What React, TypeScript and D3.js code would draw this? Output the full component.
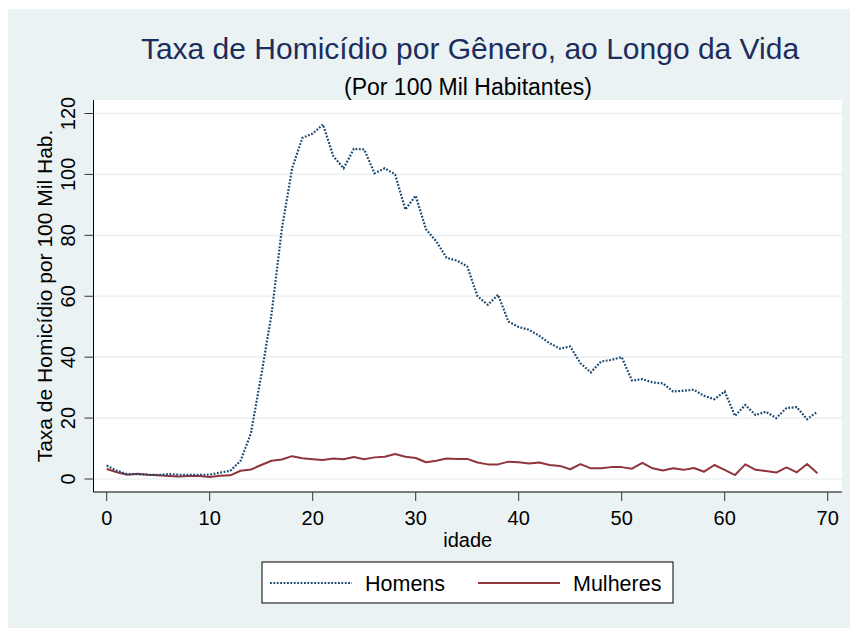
import React from "react";
import * as d3 from "d3";

const ages = [0,1,2,3,4,5,6,7,8,9,10,11,12,13,14,15,16,17,18,19,20,21,22,23,24,25,26,27,28,29,30,31,32,33,34,35,36,37,38,39,40,41,42,43,44,45,46,47,48,49,50,51,52,53,54,55,56,57,58,59,60,61,62,63,64,65,66,67,68,69];
const homens = [4.4,2.7,1.6,1.6,1.4,1.3,1.6,1.4,1.4,1.4,1.4,2.1,2.7,6,15,34,54,82,102,112,113.4,116.4,106,102,108.4,108.2,100.4,102,100,88.5,93,82,78,72.6,71.7,69.8,60,57.2,60.5,51.7,49.9,49,47,44.6,42.8,43.5,38,35,38.6,39.1,40,32.3,32.8,31.7,31.4,28.7,29,29.3,27.3,26.2,28.7,20.7,24.3,21,22.1,20,23.3,23.6,19.6,22.1];
const mulheres = [3.3,2.2,1.4,1.75,1.4,1.2,1.0,0.8,1.0,1.0,0.65,1.1,1.2,2.7,3.1,4.6,6.0,6.4,7.5,6.8,6.5,6.25,6.7,6.5,7.2,6.5,7.1,7.3,8.2,7.3,6.9,5.5,6.0,6.7,6.6,6.6,5.4,4.8,4.8,5.7,5.5,5.1,5.4,4.6,4.3,3.2,4.9,3.5,3.5,3.9,3.9,3.4,5.3,3.5,2.8,3.5,3.0,3.6,2.4,4.6,3.0,1.3,4.8,3.0,2.6,2.1,3.8,2.2,4.9,1.9];
const xTicks = [0,10,20,30,40,50,60,70];
const yTicks = [0,20,40,60,80,100,120];
const seriesNames = ["Homens", "Mulheres"];
const title = "Taxa de Homicídio por Gênero, ao Longo da Vida";
const subtitle = "(Por 100 Mil Habitantes)";
const yTitle = "Taxa de Homicídio por 100 Mil Hab.";
const xTitle = "idade";

const BG = "#eaf2f3";
const NAVY = "#1a476f";
const MAROON = "#90353b";
const FONT = "'Liberation Sans', Arial, sans-serif";

export default function App() {
  const W = 853, H = 628;
  const plot = { left: 93.5, right: 842, top: 100, bottom: 492 };
  const x = d3.scaleLinear().domain([0, 70]).range([106.7, 827.7]);
  const y = d3.scaleLinear().domain([0, 120]).range([479, 113.5]);
  const line = d3.line<number>().x((_, i) => x(ages[i])).y((d) => y(d));

  return (
    <svg width={W} height={H} style={{ position: "absolute", left: 0, top: 0 }} fontFamily={FONT}>
      <rect x={0} y={0} width={W} height={H} fill="#ffffff" />
      <rect x={8} y={9} width={842} height={H - 9} fill={BG} />
      <rect x={plot.left} y={plot.top} width={plot.right - plot.left} height={plot.bottom - plot.top} fill="#ffffff" />
      {yTicks.map((t) => (
        <line key={"g" + t} x1={plot.left} x2={plot.right} y1={y(t)} y2={y(t)} stroke={BG} strokeWidth={1.6} />
      ))}
      <path d={line(mulheres) || ""} fill="none" stroke={MAROON} strokeWidth={2} strokeLinejoin="round" />
      <path d={line(homens) || ""} fill="none" stroke={NAVY} strokeWidth={2.2} strokeDasharray="1.8 1.6" />
      {/* axes */}
      <line x1={plot.left} x2={plot.left} y1={plot.top} y2={plot.bottom} stroke="#000" strokeWidth={1} />
      <line x1={plot.left} x2={plot.right} y1={plot.bottom} y2={plot.bottom} stroke="#000" strokeWidth={1} />
      {yTicks.map((t) => (
        <g key={"yt" + t}>
          <line x1={plot.left - 9} x2={plot.left} y1={y(t)} y2={y(t)} stroke="#333" strokeWidth={1} />
          <text transform={`translate(${75},${y(t)}) rotate(-90)`} textAnchor="middle" fontSize={20} fill="#000">{t}</text>
        </g>
      ))}
      {xTicks.map((t) => (
        <g key={"xt" + t}>
          <line x1={x(t)} x2={x(t)} y1={plot.bottom} y2={plot.bottom + 9} stroke="#333" strokeWidth={1} />
          <text x={x(t)} y={525} textAnchor="middle" fontSize={20} fill="#000">{t}</text>
        </g>
      ))}
      <text x={(plot.left + plot.right) / 2} y={547} textAnchor="middle" fontSize={20} fill="#000">{xTitle}</text>
      <text transform={`translate(${52},${(plot.top + plot.bottom) / 2}) rotate(-90)`} textAnchor="middle" fontSize={21} fill="#000">{yTitle}</text>
      <text x={470} y={59} textAnchor="middle" fontSize={30} fill="#1c2d5c">{title}</text>
      <text x={468} y={95} textAnchor="middle" fontSize={23} fill="#000">{subtitle}</text>
      {/* legend */}
      <rect x={262} y={562} width={411} height={41} fill="#fff" stroke="#000" strokeWidth={1} />
      <line x1={270} x2={352} y1={583} y2={583} stroke={NAVY} strokeWidth={2.2} strokeDasharray="1.8 1.6" />
      <text x={365} y={590.5} fontSize={21.5} fill="#000">{seriesNames[0]}</text>
      <line x1={478} x2={560} y1={583} y2={583} stroke={MAROON} strokeWidth={2} />
      <text x={573} y={590.5} fontSize={21.5} fill="#000">{seriesNames[1]}</text>
    </svg>
  );
}
